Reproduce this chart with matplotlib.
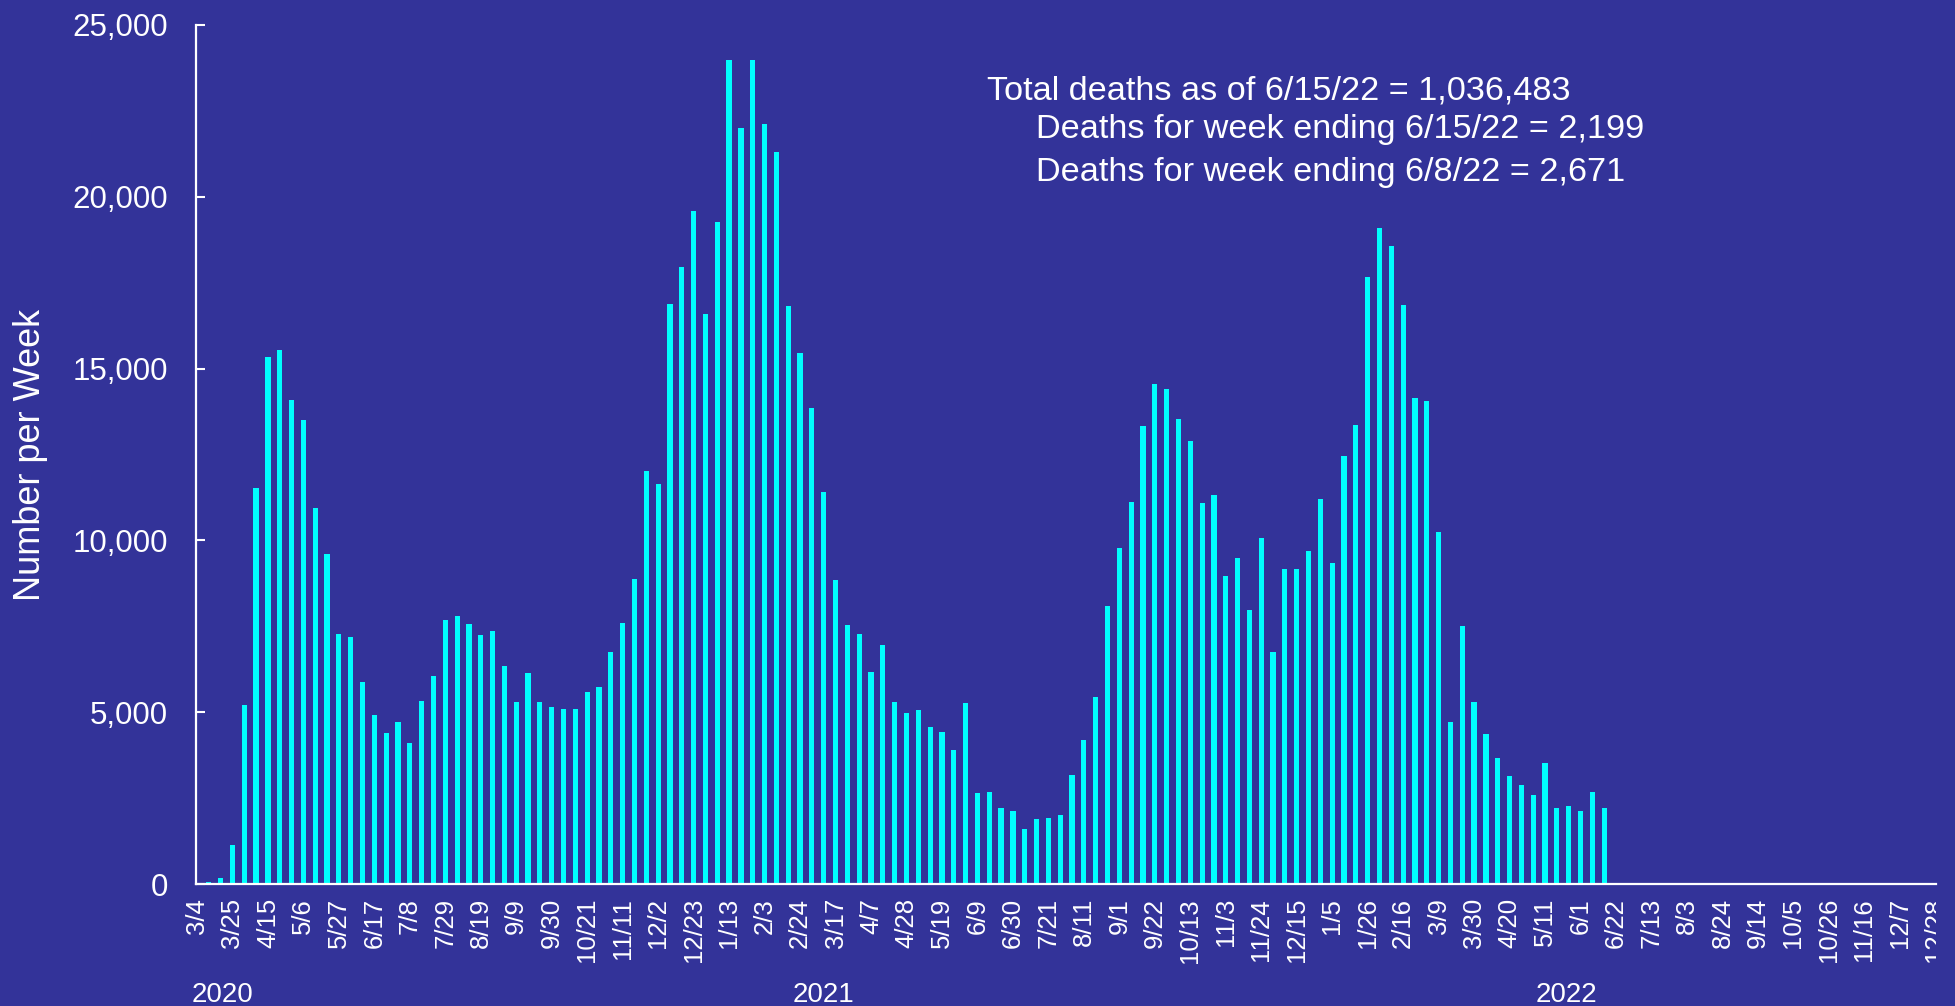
import numpy as np
import matplotlib.pyplot as plt
from matplotlib.transforms import Bbox

# 폰트 설정
plt.rcParams['font.family'] = ['Liberation Sans', 'DejaVu Sans']

# 주간 사망자 수 (2020-03-11 ~ 2022-06-15, 주 단위)
deaths = [60, 180, 1130, 5210, 11520, 15340, 15530, 14080, 13490, 10950,
          9600, 7290, 7180, 5870, 4920, 4400, 4710, 4100, 5320, 6065,
          7680, 7810, 7565, 7240, 7355, 6340, 5310, 6130, 5290, 5160,
          5080, 5100, 5600, 5740, 6740, 7610, 8890, 12020, 11650, 16890,
          17970, 19600, 16600, 19260, 23990, 22000, 23970, 22130, 21310, 16820,
          15450, 13840, 11400, 8840, 7550, 7290, 6160, 6950, 5310, 4970,
          5050, 4580, 4420, 3900, 5260, 2650, 2690, 2210, 2130, 1610,
          1890, 1935, 2015, 3180, 4190, 5450, 8100, 9775, 11130, 13340,
          14565, 14405, 13530, 12890, 11100, 11310, 8970, 9500, 7970, 10080,
          6760, 9180, 9160, 9680, 11210, 9355, 12450, 13370, 17660, 19080,
          18570, 16860, 14130, 14050, 10240, 4725, 7520, 5290, 4355, 3680,
          3145, 2870, 2600, 3530, 2225, 2260, 2115, 2671, 2199]

# x축 라벨 (3주 간격, 2020-03-04 ~ 2022-12-28)
tick_labels = ['3/4', '3/25', '4/15', '5/6', '5/27', '6/17', '7/8', '7/29', '8/19', '9/9',
               '9/30', '10/21', '11/11', '12/2', '12/23', '1/13', '2/3', '2/24', '3/17', '4/7',
               '4/28', '5/19', '6/9', '6/30', '7/21', '8/11', '9/1', '9/22', '10/13', '11/3',
               '11/24', '12/15', '1/5', '1/26', '2/16', '3/9', '3/30', '4/20', '5/11', '6/1',
               '6/22', '7/13', '8/3', '8/24', '9/14', '10/5', '10/26', '11/16', '12/7', '12/28']
n_weeks = 148  # 3/4/2020 ~ 12/28/2022

years = ['2020', '2021', '2022']
year_x = [0.098, 0.405, 0.785]

notes = ['Total deaths as of 6/15/22 = 1,036,483',
         'Deaths for week ending 6/15/22 = 2,199',
         'Deaths for week ending 6/8/22 = 2,671']

bg = '#333399'
bar_color = '#00FFFF'

fig = plt.figure(figsize=(19.56, 10.06), dpi=100, facecolor=bg)
ax = fig.add_axes([196 / 1956, 1 - 884 / 1006, 1740 / 1956, 859 / 1006])
ax.set_facecolor(bg)

# 막대 그래프 (첫 주 3/4 는 비어 있음)
weeks = np.arange(1, len(deaths) + 1)
ax.bar(weeks, deaths, width=0.44, color=bar_color, zorder=2)

ax.set_xlim(-0.08, n_weeks - 0.94)
ax.set_ylim(0, 25000)

# 축 스타일
for side in ['top', 'right']:
    ax.spines[side].set_visible(False)
for side in ['left', 'bottom']:
    ax.spines[side].set_color('white')
    ax.spines[side].set_linewidth(1.6)

ax.set_yticks(np.arange(0, 25001, 5000))
ax.set_yticklabels(['{:,}'.format(v) for v in range(0, 25001, 5000)])
ax.tick_params(axis='y', direction='in', length=6.5, width=1.5, color='white',
               labelcolor='white', labelsize=22.5, pad=20)

ax.set_xticks(np.arange(0, n_weeks, 3))
ax.set_xticklabels(tick_labels, rotation=90, fontsize=18.5,
                   family=['Liberation Sans Narrow', 'Liberation Sans'])
ax.tick_params(axis='x', length=0, labelcolor='white', pad=10)

ax.set_ylabel('Number per Week', color='white', fontsize=26)
ax.yaxis.set_label_coords(-0.085, 0.5)

# 연도 표시
for yr, xx in zip(years, year_x):
    fig.text(xx, 0.004, yr, color='white', fontsize=20, ha='left', va='baseline')

# 주석
fig.text(987 / 1956, 1 - 99.4 / 1006, notes[0], color='white', fontsize=24.7, va='baseline')
fig.text(1036 / 1956, 1 - 138.2 / 1006, notes[1], color='white', fontsize=24.7, va='baseline')
fig.text(1036 / 1956, 1 - 180.9 / 1006, notes[2], color='white', fontsize=24.7, va='baseline')

# 마지막 라벨은 축 끝에서 잘림
last = ax.get_xticklabels()[-1]
last.set_clip_on(True)
last.set_clip_box(Bbox.from_extents(0, 0, ax.bbox.x1, fig.bbox.y1))

plt.savefig('out.png', dpi=100, facecolor=bg)
